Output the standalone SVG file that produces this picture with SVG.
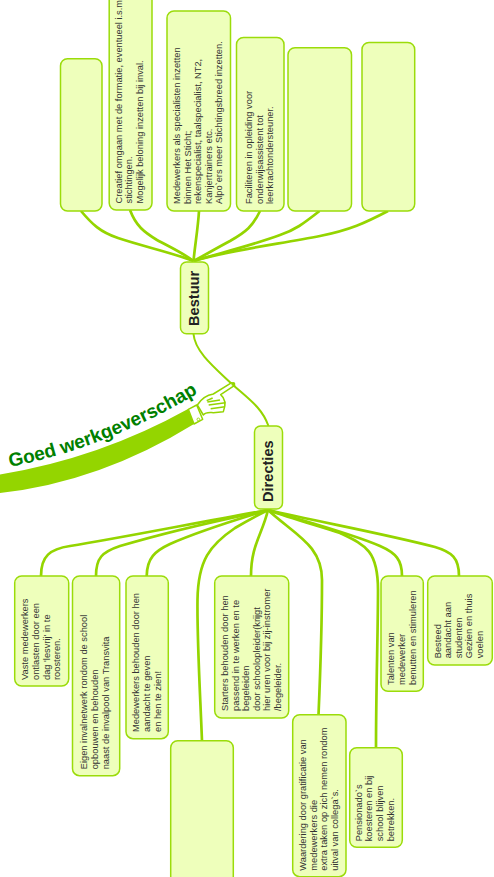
<svg xmlns="http://www.w3.org/2000/svg" width="494" height="877" viewBox="0 0 494 877">
<style>
.box{fill:#eeffbb;stroke:#9bdc0a;stroke-width:1.5}
.t{font-family:"Liberation Sans",Arial,sans-serif;font-size:9.3px;fill:#333}
.h{font-family:"Liberation Sans",Arial,sans-serif;font-size:14.6px;font-weight:bold;fill:#222}
.c{fill:none;stroke:#94d500;stroke-width:2.7}
.l{fill:none;stroke:#94d500;stroke-width:2}
.hand{fill:#fff;stroke:#94d500;stroke-width:4.5;stroke-linejoin:round;stroke-linecap:round}
</style>
<defs><path id="arc" d="M10,467 Q110,447 205,389"/></defs>
<rect width="494" height="877" fill="#fff"/>
<g id="connectors">
<path class="l" d="M193.500,334 C195,352 215,368 233,385 C250,400 262,408 268.500,426"/>
<path class="c" d="M81,211 C92,224 100,232 118,238 C145,247 170,252 193.500,261"/>
<path class="c" d="M130,210 C136,226 144,232 157,240 C170,247 183,253 193.500,261"/>
<path class="c" d="M199,211 C198,228 195,245 193.500,261"/>
<path class="c" d="M260,211 C253,226 246,232 230,241 C215,249 205,255 193.500,261"/>
<path class="c" d="M319.500,211 C303,224 295,230 280,235 C250,246 220,253 193.500,261"/>
<path class="c" d="M388,211 C365,223 350,230 320,236 C280,244 230,250 193.500,261"/>
<path class="c" d="M41,576 C41,556 50,549 70,546 C120,538 200,522 268,510"/>
<path class="c" d="M96,576 C96,558 102,552 120,546 C160,534 220,520 268,510"/>
<path class="c" d="M146.700,576 C147,558 155,551 170,544 C195,533 235,520 268,510"/>
<path class="c" d="M202,741 C200,690 197,640 197.500,600 C198,560 210,545 235,528 C245,522 258,515 268,510"/>
<path class="c" d="M251,576 C251,545 262,535 268,510"/>
<path class="c" d="M318.500,715 C320,680 322,620 322,580 C322,545 295,535 268,510"/>
<path class="c" d="M376,748 C376,690 378,630 378,590 C378,550 365,545 340,533 C315,525 290,518 268,510"/>
<path class="c" d="M402,576 C402,560 396,553 380,546 C350,533 300,520 268,510"/>
<path class="c" d="M459,576 C459,558 452,552 435,547 C390,535 320,522 268,510"/>
</g>
<g id="central">
<path fill="#94d500" d="M0,474.500 Q100,458 188,409 L194,424 Q100,482 0,493 Z"/>
<text font-family="'Liberation Sans',Arial,sans-serif" font-size="19px" font-weight="bold" fill="#008000"><textPath href="#arc">Goed werkgeverschap</textPath></text>
<g transform="translate(170,370) scale(0.3333)">
<path class="hand" d="M82,105 C95,85 110,75 130,72 L185,38 L194,46 L152,74 C165,85 170,100 160,125 L130,128 C120,128 108,125 100,135 Z"/>
<path class="hand" d="M55,118 L80,105 L98,148 L72,162 Z"/>
<path fill="none" stroke="#94d500" stroke-width="4.500" d="M112,96 L150,90 M116,105 L166,98 M122,116 L165,110 M110,92 L128,84"/>
<circle cx="85" cy="148" r="4" fill="#fff" stroke="#94d500" stroke-width="2.500"/>
<circle cx="190" cy="42" r="6" fill="#94d500"/>
</g>
</g>
<g id="bestuur"><rect class="box" x="180.500" y="262" width="28" height="71.700" rx="6"/><text class="h" transform="translate(198.700,326) rotate(-90)">Bestuur</text></g>
<g id="directies"><rect class="box" x="254.500" y="426" width="28" height="83" rx="6"/><text class="h" transform="translate(272.700,502) rotate(-90)">Directies</text></g>
<g id="n1"><rect class="box" x="60.500" y="58.700" width="41.500" height="152.300" rx="7"/></g>
<g id="n2"><rect class="box" x="109.200" y="-20" width="42.800" height="230" rx="7"/><text class="t" transform="translate(121.700,203.500) rotate(-90)"><tspan x="0" y="0">Creatief omgaan met de formatie, eventueel i.s.m.</tspan><tspan x="0" y="10.800">stichtingen.</tspan><tspan x="0" y="21.600">Mogelijk beloning inzetten bij inval.</tspan></text></g>
<g id="n3"><rect class="box" x="167" y="11" width="63.500" height="200" rx="7"/><text class="t" transform="translate(180.300,204) rotate(-90)"><tspan x="0" y="0">Medewerkers als specialisten inzetten</tspan><tspan x="0" y="10.500">binnen Het Sticht;</tspan><tspan x="0" y="21">rekenspecialist, taalspecialist, NT2,</tspan><tspan x="0" y="31.500">Kanjertrainers etc.</tspan><tspan x="0" y="42">Alpo`ers meer Stichtingsbreed inzetten.</tspan></text></g>
<g id="n4"><rect class="box" x="236.500" y="37.500" width="47.500" height="173.500" rx="7"/><text class="t" transform="translate(252.300,204) rotate(-90)"><tspan x="0" y="0">Faciliteren in opleiding voor</tspan><tspan x="0" y="10.500">onderwijsassistent tot</tspan><tspan x="0" y="21">leerkrachtondersteuner.</tspan></text></g>
<g id="n5"><rect class="box" x="288" y="47.700" width="63.500" height="163.300" rx="7"/></g>
<g id="n6"><rect class="box" x="362" y="42.500" width="52.700" height="168.500" rx="7"/></g>
<g id="b1"><rect class="box" x="14.700" y="576" width="54" height="110" rx="7"/><text class="t" transform="translate(28.300,680) rotate(-90)"><tspan x="0" y="0">Vaste medewerkers</tspan><tspan x="0" y="10.700">ontlasten door een</tspan><tspan x="0" y="21.400">dag 'lesvrij' in te</tspan><tspan x="0" y="32.100">roosteren.</tspan></text></g>
<g id="b2"><rect class="box" x="72.500" y="576" width="47.200" height="199.700" rx="7"/><text class="t" transform="translate(87.300,769.300) rotate(-90)"><tspan x="0" y="0">Eigen invalnetwerk rondom de school</tspan><tspan x="0" y="11">opbouwen en behouden</tspan><tspan x="0" y="22">naast de invalpool van Transvita</tspan></text></g>
<g id="b3"><rect class="box" x="126" y="576" width="42.300" height="162.700" rx="7"/><text class="t" transform="translate(138.700,732) rotate(-90)"><tspan x="0" y="0">Medewerkers behouden door hen</tspan><tspan x="0" y="11">aandacht te geven</tspan><tspan x="0" y="22">en hen te zien!</tspan></text></g>
<g id="b4"><rect class="box" x="170.700" y="740.700" width="62.600" height="160" rx="7"/></g>
<g id="b5"><rect class="box" x="214.700" y="576" width="74" height="142" rx="7"/><text class="t" transform="translate(228,711) rotate(-90)"><tspan x="0" y="0">Starters behouden door hen</tspan><tspan x="0" y="10.600">passend in te werken en te</tspan><tspan x="0" y="21.200">begeleiden</tspan><tspan x="0" y="31.800">door schoolopleider(krijgt</tspan><tspan x="0" y="42.400">hier uren voor bij zij-instromer</tspan><tspan x="0" y="53">/begeleider.</tspan></text></g>
<g id="b6"><rect class="box" x="292.700" y="714.700" width="53.300" height="162" rx="7"/><text class="t" transform="translate(306,870.700) rotate(-90)"><tspan x="0" y="0">Waardering door gratificatie van</tspan><tspan x="0" y="10.700">medewerkers die</tspan><tspan x="0" y="21.400">extra taken op zich nemen rondom</tspan><tspan x="0" y="32.100">uitval van collega`s.</tspan></text></g>
<g id="b7"><rect class="box" x="349.700" y="747.700" width="52.600" height="99.600" rx="7"/><text class="t" transform="translate(361.700,841.300) rotate(-90)"><tspan x="0" y="0">Pensionado`s</tspan><tspan x="0" y="10.800">koesteren en bij</tspan><tspan x="0" y="21.600">school blijven</tspan><tspan x="0" y="32.400">betrekken.</tspan></text></g>
<g id="b8"><rect class="box" x="381" y="576" width="42.300" height="115.300" rx="7"/><text class="t" transform="translate(394,685) rotate(-90)"><tspan x="0" y="0">Talenten van</tspan><tspan x="0" y="10.800">medewerker</tspan><tspan x="0" y="21.600">benutten en stimuleren</tspan></text></g>
<g id="b9"><rect class="box" x="427.700" y="576" width="64.600" height="89" rx="7"/><text class="t" transform="translate(440.700,658.300) rotate(-90)"><tspan x="0" y="0">Besteed</tspan><tspan x="0" y="10.500">aandacht aan</tspan><tspan x="0" y="21">studenten</tspan><tspan x="0" y="31.500">Gezien en thuis</tspan><tspan x="0" y="42">voelen</tspan></text></g>
</svg>
